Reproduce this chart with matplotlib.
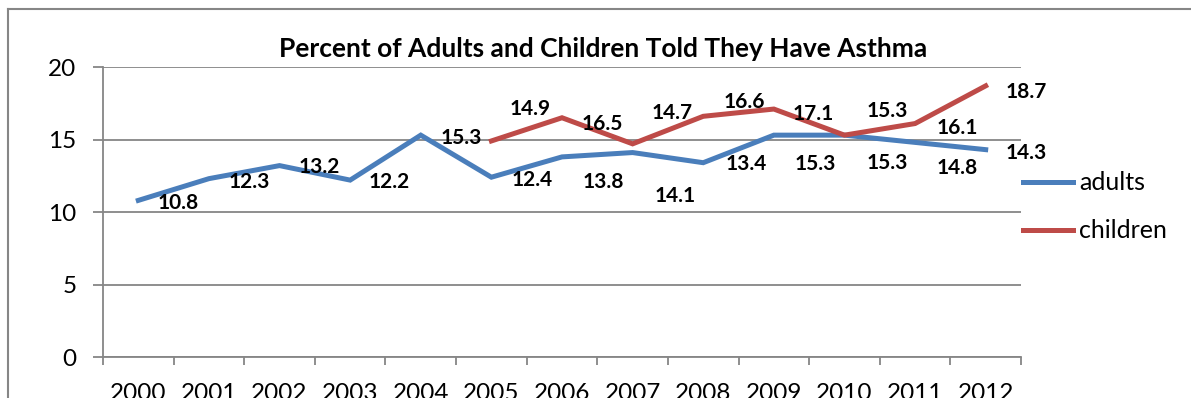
import numpy as np
import matplotlib
matplotlib.use('Agg')
import matplotlib.pyplot as plt
from matplotlib.lines import Line2D

# Dados do gráfico
anos = ['2000', '2001', '2002', '2003', '2004', '2005', '2006',
        '2007', '2008', '2009', '2010', '2011', '2012']
adultos = [10.8, 12.3, 13.2, 12.2, 15.3, 12.4, 13.8, 14.1, 13.4, 15.3, 15.3, 14.8, 14.3]
criancas = [np.nan, np.nan, np.nan, np.nan, np.nan,
            14.9, 16.5, 14.7, 16.6, 17.1, 15.3, 16.1, 18.7]
titulo = 'Percent of Adults and Children Told They Have Asthma'

# Deslocamento dos rótulos em pixels (direita, para baixo), como no Excel
desloc_adultos = [(40, 2), (40, 2), (40, 0), (39, 1), (40, 2), (41, 2), (41, 24),
                  (43, 42), (43, 0), (41, 28), (43, 27), (42, 25), (41, 2)]
desloc_criancas = [None, None, None, None, None, (39, -33), (40, 5), (40, -32),
                   (41, -15), (39, 4), (43, -25), (42, 3), (41, 5)]

AZUL = '#4A7EBB'
VERMELHO = '#BE4B48'
CINZA = '#868686'

plt.rcParams['font.family'] = ['Lato', 'DejaVu Sans']

fig = plt.figure(figsize=(11.91, 3.98), dpi=100)
ax = fig.add_axes([103 / 1191, 1 - 357 / 398, 918 / 1191, 290 / 398])

x = np.arange(len(anos))
ax.plot(x, adultos, color=AZUL, lw=3.6, label='adults', solid_joinstyle='miter')
ax.plot(x, criancas, color=VERMELHO, lw=3.6, label='children', solid_joinstyle='miter')

# Rótulos de dados
for serie, desloc in [(adultos, desloc_adultos), (criancas, desloc_criancas)]:
    for i, v in enumerate(serie):
        if np.isnan(v):
            continue
        dx, dy = desloc[i]
        ax.annotate(f'{v:.1f}', xy=(i, v), xytext=(dx, -(dy + 7)),
                    textcoords='offset pixels', ha='center', va='baseline',
                    fontsize=15, fontweight='bold', color='black')

ax.set_xlim(-0.5, len(anos) - 0.5)
ax.set_ylim(0, 20)
ax.set_yticks([0, 5, 10, 15, 20])
ax.yaxis.grid(True, color=CINZA, lw=1.3)
ax.set_axisbelow(True)

# marcas nos limites das categorias, anos no centro
ax.set_xticks(np.arange(-0.5, len(anos), 1))
ax.set_xticklabels([])
ax.set_xticks(x, labels=anos, minor=True)
ax.tick_params(axis='x', which='major', length=6, width=1.3, color=CINZA, direction='out')
ax.tick_params(axis='x', which='minor', length=0, pad=19, labelsize=17.5)
ax.tick_params(axis='y', length=7, width=1.3, color=CINZA, pad=12, labelsize=17.5)

for lado in ['top', 'right']:
    ax.spines[lado].set_visible(False)
for lado in ['left', 'bottom']:
    ax.spines[lado].set_color(CINZA)
    ax.spines[lado].set_linewidth(1.3)

ax.legend(loc='center left', bbox_to_anchor=(1023 / 1191, 1 - 207 / 398),
          bbox_transform=fig.transFigure, frameon=False, fontsize=18,
          handlelength=2.0, handletextpad=0.25, labelspacing=1.0,
          borderpad=0, borderaxespad=0)

fig.text(603 / 1191, 1 - 57 / 398, titulo, ha='center', va='baseline',
         fontsize=19, fontweight='bold')

# borda do gráfico (cortada na imagem original)
x0 = 8 / 1191
y0 = 1 - 9 / 398
fig.add_artist(Line2D([x0, x0], [-0.1, y0], color=CINZA, lw=1.5))
fig.add_artist(Line2D([x0, 1.1], [y0, y0], color=CINZA, lw=1.5))

fig.savefig('out.png', dpi=100)
